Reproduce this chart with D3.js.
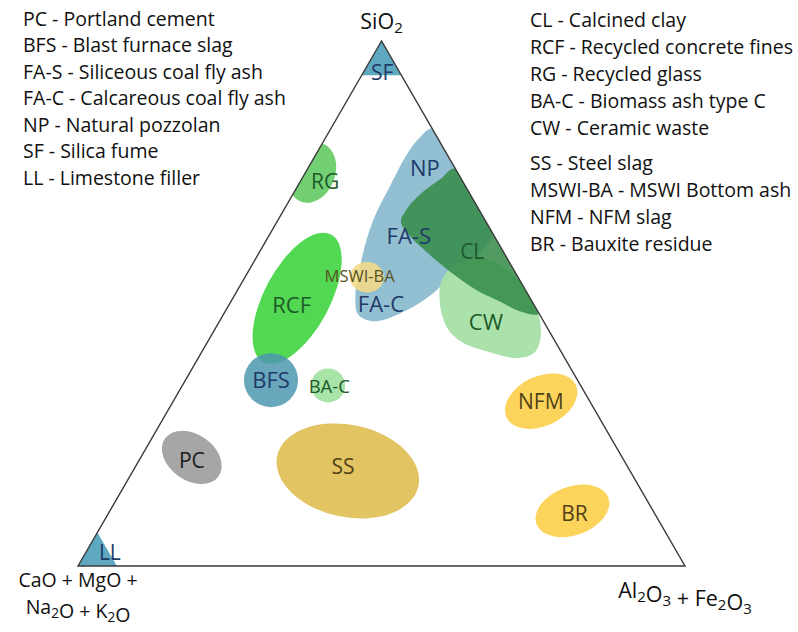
<!DOCTYPE html>
<html>
<head>
<meta charset="utf-8">
<script src="https://cdn.jsdelivr.net/npm/d3@7"></script>
<style>
  html, body { margin: 0; padding: 0; background: #fff; }
  svg { display: block; font-family: "Open Sans", Lato, sans-serif; }
</style>
</head>
<body>
<svg id="chart" width="798" height="632"></svg>
<script>
// Compositions are given as [SiO2, CaO+MgO+Na2O+K2O, Al2O3+Fe2O3] in %.

// Legend entries
const legendLeft = [
  "PC - Portland cement",
  "BFS - Blast furnace slag",
  "FA-S - Siliceous coal fly ash",
  "FA-C - Calcareous coal fly ash",
  "NP - Natural pozzolan",
  "SF - Silica fume",
  "LL - Limestone filler"
];
const legendRight = [
  ["CL - Calcined clay", "RCF - Recycled concrete fines", "RG - Recycled glass",
   "BA-C - Biomass ash type C", "CW - Ceramic waste"],
  ["SS - Steel slag", "MSWI-BA - MSWI Bottom ash", "NFM - NFM slag", "BR - Bauxite residue"]
];

// Corner fields: SF above this SiO2 content, LL above this CaO content
const sfMinSiO2 = 93.5;
const llMinCaO = 93.6;

// Elliptical fields: centre composition, half-spreads (% of axis) and tilt (deg)
const ellipseNames = ["RG", "RCF", "BFS", "BA-C", "MSWI-BA", "PC", "SS", "NFM", "BR"];
const ellipseSiO2  = [74.9, 51.0, 35.4, 34.4, 55.0, 20.7, 18.1, 31.4, 10.5];
const ellipseCaO   = [24.0, 38.4, 50.5, 41.6, 24.9, 70.9, 46.5,  8.0, 13.3];
const ellipseAl    = [ 1.1, 10.6, 14.1, 24.0, 20.1,  8.4, 35.4, 60.6, 76.2];
const ellipseSpreadA = [3.8, 5.4, 4.45, 2.8, 2.8, 5.4, 11.9, 6.3, 6.3];
const ellipseSpreadB = [5.1, 11.9, 4.45, 2.8, 2.5, 3.8, 7.6, 4.1, 4.0];
const ellipseTilt  = [21, 28, 0, 0, 0, 35, 12, -25, -20];

// Outlined fields (closed smooth boundaries through these compositions)
const pozzolanOutline = [
  [83.3, 0.0, 16.7], [73.4, 0.0, 26.6], [63.5, 0.0, 36.5], [57.8, 6.5, 35.7],
  [55.0, 11.2, 33.8], [51.9, 15.6, 32.5], [48.7, 21.5, 29.8], [46.6, 27.8, 25.6],
  [47.9, 29.9, 22.2], [51.6, 28.6, 19.9], [58.8, 23.8, 17.4], [65.8, 18.5, 15.7],
  [72.5, 12.4, 15.2], [78.8, 6.3, 15.0], [81.6, 2.9, 15.5]
];
const ceramicOutline = [
  [54.0, 13.2, 32.8], [57.1, 9.9, 33.1], [58.6, 5.3, 36.1], [57.3, 1.9, 40.9],
  [53.5, 0.1, 46.4], [48.7, 0.0, 51.3], [43.9, 1.8, 54.3], [40.7, 4.4, 54.9],
  [39.6, 7.7, 52.7], [40.7, 11.8, 47.5], [42.6, 15.4, 42.0], [45.3, 16.6, 38.2],
  [49.7, 15.5, 34.8]
];
const clayOutline = [
  [65.6, 14.0, 20.4], [68.3, 11.5, 20.2], [71.1, 7.8, 21.1], [73.6, 3.6, 22.8],
  [75.7, 0.0, 24.3], [62.0, 0.0, 38.0], [48.1, 0.0, 51.9], [48.5, 2.9, 48.6],
  [50.4, 5.3, 44.3], [52.5, 8.0, 39.5], [56.1, 10.7, 33.2], [60.1, 12.8, 27.1],
  [63.3, 14.0, 22.7]
];

// Field labels and the compositions they sit at
const labelNames = ["SF", "LL", "NP", "FA-S", "FA-C", "CL", "CW", "RG", "RCF",
                    "BFS", "BA-C", "MSWI-BA", "PC", "SS", "NFM", "BR"];
const labelSiO2 = [94.0, 2.5, 75.7, 62.8, 49.8, 59.9, 46.4, 73.2, 49.6, 35.4, 34.2, 55.2, 20.1, 18.9, 31.3, 10.0];
const labelCaO  = [ 2.9, 93.5, 5.0, 14.1, 25.2, 5.1, 9.6, 22.7, 39.9, 50.5, 41.5, 26.0, 71.2, 46.9, 8.1, 13.2];
const labelAl   = [ 3.1, 4.0, 19.3, 23.1, 25.0, 35.0, 44.0, 4.1, 10.4, 14.1, 24.3, 18.8, 8.7, 34.2, 60.6, 76.8];

// ---- drawing ----
const svg = d3.select("#chart");

// horizontal position follows Al2O3 + SiO2/2, vertical follows SiO2
const x = d3.scaleLinear().domain([0, 100]).range([78, 685]);
const y = d3.scaleLinear().domain([0, 100]).range([566, 41]);
const pos = ([s, c, a]) => [x(a + s / 2), y(s)];
const span = v => x(v) - x(0);

const topCorner = pos([100, 0, 0]), leftCorner = pos([0, 100, 0]), rightCorner = pos([0, 0, 100]);

svg.append("defs").append("clipPath").attr("id", "tri")
  .append("polygon").attr("points", [topCorner, leftCorner, rightCorner].map(p => p.join(",")).join(" "));

const fields = svg.append("g").attr("clip-path", "url(#tri)");

const fillOf = {
  "SF": "#5ea8c0", "LL": "#5ea8c0", "POZ": "#93bfd2", "CW": "#a6e0a6", "CL": "#348a48",
  "RG": "#72cf72", "RCF": "#52d852", "BFS": "#4e98b0", "BA-C": "#a8e3a8", "MSWI-BA": "#f2db86",
  "PC": "#a6a6a6", "SS": "#e3c462", "NFM": "#fcd45c", "BR": "#fcd45c"
};
const opacityOf = { "CL": 0.86, "BFS": 0.85, "MSWI-BA": 0.88, "CW": 0.95 };

// corner triangles
fields.append("polygon")
  .attr("points", [topCorner, pos([sfMinSiO2, 100 - sfMinSiO2, 0]), pos([sfMinSiO2, 0, 100 - sfMinSiO2])].map(p => p.join(",")).join(" "))
  .attr("fill", fillOf.SF);
fields.append("polygon")
  .attr("points", [leftCorner, pos([100 - llMinCaO, llMinCaO, 0]), pos([0, llMinCaO, 100 - llMinCaO])].map(p => p.join(",")).join(" "))
  .attr("fill", fillOf.LL);

const blob = d3.line().curve(d3.curveCatmullRomClosed.alpha(0.5));
function drawOutline(pts, key) {
  fields.append("path").attr("d", blob(pts.map(pos)))
    .attr("fill", fillOf[key]).attr("fill-opacity", opacityOf[key] || 1);
}
function drawEllipse(name) {
  const i = ellipseNames.indexOf(name);
  const [cx, cy] = pos([ellipseSiO2[i], ellipseCaO[i], ellipseAl[i]]);
  fields.append("ellipse")
    .attr("cx", cx).attr("cy", cy)
    .attr("rx", span(ellipseSpreadA[i])).attr("ry", span(ellipseSpreadB[i]))
    .attr("transform", `rotate(${ellipseTilt[i]},${cx},${cy})`)
    .attr("fill", fillOf[name]).attr("fill-opacity", opacityOf[name] || 1);
}

drawOutline(pozzolanOutline, "POZ");
drawOutline(ceramicOutline, "CW");
drawOutline(clayOutline, "CL");
["MSWI-BA", "RG", "RCF", "BFS", "BA-C", "PC", "SS", "NFM", "BR"].forEach(drawEllipse);

// triangle frame
svg.append("polygon")
  .attr("points", [topCorner, leftCorner, rightCorner].map(p => p.join(",")).join(" "))
  .attr("fill", "none").attr("stroke", "#3a3a3a").attr("stroke-width", 1.4);

// field labels
const navy = "#1f3a68", green = "#1d5a2a", olive = "#4f4218";
const labelStyle = {
  "SF": [navy, 21], "LL": [navy, 21], "NP": [navy, 22], "FA-S": [navy, 22], "FA-C": [navy, 22],
  "BFS": [navy, 22], "CL": [green, 21], "CW": [green, 22], "RG": [green, 21], "RCF": [green, 22],
  "BA-C": [green, 18.5], "MSWI-BA": ["#5a5222", 16.5], "PC": ["#1a1a1a", 21], "SS": [olive, 21],
  "NFM": [olive, 21], "BR": [olive, 21]
};
labelNames.forEach((name, i) => {
  const [lx, ly] = pos([labelSiO2[i], labelCaO[i], labelAl[i]]);
  svg.append("text")
    .attr("x", lx).attr("y", ly).attr("dy", "0.35em")
    .attr("text-anchor", "middle")
    .attr("fill", labelStyle[name][0])
    .attr("font-size", labelStyle[name][1])
    .text(name);
});

// legends
const legendSize = 19.5;
legendLeft.forEach((t, i) => {
  svg.append("text").attr("x", 23).attr("y", 19 + i * 26.5).attr("dy", "0.35em")
    .attr("font-size", legendSize).attr("fill", "#111").text(t);
});
let ry = 20;
legendRight.forEach(group => {
  group.forEach(t => {
    svg.append("text").attr("x", 530).attr("y", ry).attr("dy", "0.35em")
      .attr("font-size", legendSize).attr("fill", "#111").text(t);
    ry += 27;
  });
  ry += 8;
});

// corner (axis) titles with subscripts; each line is a list of plain / [subscript] parts
function chemLabel(lines, xPos, yPos, size, lineGap) {
  const t = svg.append("text").attr("x", xPos).attr("y", yPos)
    .attr("text-anchor", "middle").attr("font-size", size).attr("fill", "#111");
  lines.forEach((parts, li) => {
    const line = t.append("tspan").attr("x", xPos).attr("y", yPos + li * lineGap);
    parts.forEach(p => {
      if (typeof p === "string") {
        line.append("tspan").text(p);
      } else {
        line.append("tspan").attr("dy", 4).attr("font-size", size * 0.7).text(p[0]);
        line.append("tspan").attr("dy", -4).text("");
      }
    });
  });
  return t;
}
chemLabel([["SiO", ["2"]]], topCorner[0], 29, 21.5, 0);
chemLabel([["CaO + MgO +"], ["Na", ["2"], "O + K", ["2"], "O"]], leftCorner[0], 587, 19.5, 27);
chemLabel([["Al", ["2"], "O", ["3"], " + Fe", ["2"], "O", ["3"]]], rightCorner[0], 598, 21.5, 0);
</script>
</body>
</html>
